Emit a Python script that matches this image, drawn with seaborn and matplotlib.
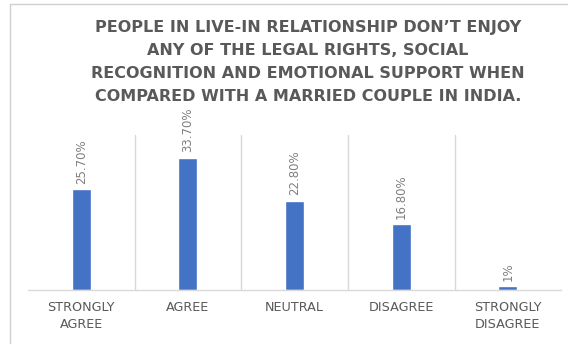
import matplotlib
matplotlib.use("Agg")
import matplotlib.pyplot as plt
import seaborn as sns
import pandas as pd
from matplotlib.lines import Line2D

categories = ["STRONGLY\nAGREE", "AGREE", "NEUTRAL", "DISAGREE", "STRONGLY\nDISAGREE"]
values = [25.7, 33.7, 22.8, 16.8, 1.0]
labels = ["25.70%", "33.70%", "22.80%", "16.80%", "1%"]
title = ("PEOPLE IN LIVE-IN RELATIONSHIP DON\u2019T ENJOY\nANY OF THE LEGAL RIGHTS, SOCIAL\n"
         "RECOGNITION AND EMOTIONAL SUPPORT WHEN\nCOMPARED WITH A MARRIED COUPLE IN INDIA.")

sns.set_theme(style="white")
plt.rcParams["font.family"] = ["DejaVu Sans"]

TXT = "#595959"
df = pd.DataFrame({"cat": categories, "val": values})

fig = plt.figure(figsize=(5.68, 3.45), dpi=100)
ax = fig.add_axes([0.049, 0.159, 0.939, 0.45])
sns.barplot(data=df, x="cat", y="val", color="#4472C4", width=0.18, saturation=1, ax=ax)

ax.set_ylim(0, 39.5)
ax.set_xlim(-0.5, len(categories) - 0.5)
for i in range(1, len(categories)):
    ax.axvline(i - 0.5, color="#d9d9d9", lw=1, zorder=0)
for s in ["left", "right", "top"]:
    ax.spines[s].set_visible(False)
ax.spines["bottom"].set_color("#d9d9d9")
ax.spines["bottom"].set_linewidth(1)
ax.set_yticks([])
ax.set_xlabel("")
ax.set_ylabel("")
ax.tick_params(axis="x", length=0, pad=8, labelsize=9.2, labelcolor=TXT)
for t in ax.get_xticklabels():
    t.set_linespacing(1.4)

for i, (v, lab) in enumerate(zip(values, labels)):
    ax.annotate(lab, (i, v), xytext=(0, 4), textcoords="offset points",
                rotation=90, ha="center", va="bottom", fontsize=8.5, color="#7f7f7f")

fig.text(308 / 568, 1 - 20 / 345, title, ha="center", va="top", fontsize=11.5,
         fontweight="bold", color=TXT, linespacing=1.68)

# chart border
fig.add_artist(Line2D([10 / 568, 10 / 568], [2 / 345, 1 - 4 / 345], color="#d0d0d0", lw=1))
fig.add_artist(Line2D([10 / 568, 1], [1 - 4 / 345, 1 - 4 / 345], color="#d0d0d0", lw=1))

fig.savefig("out.png", dpi=100)
